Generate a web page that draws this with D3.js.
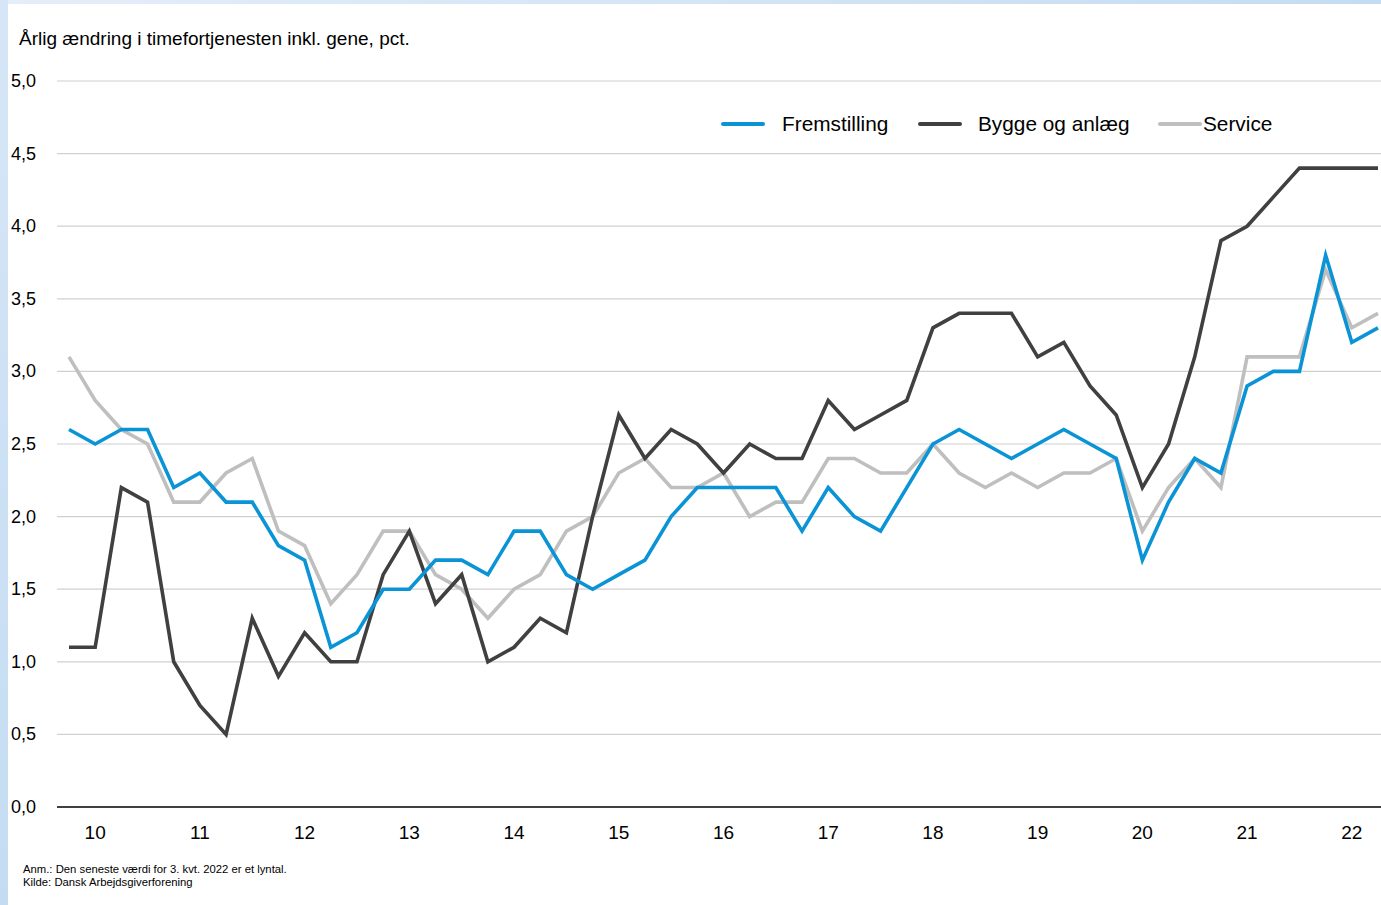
<!DOCTYPE html>
<html><head><meta charset="utf-8">
<script src="https://cdn.jsdelivr.net/npm/d3@7/dist/d3.min.js"></script>
<style>
html,body{margin:0;padding:0;background:#fff;}
svg{display:block;font-family:"Liberation Sans",Arial,sans-serif;}
</style></head>
<body>
<script>
const yearLabels = ["10","11","12","13","14","15","16","17","18","19","20","21","22"];
const quarters = d3.range(51); // 2010K1 .. 2022K3
const fremstilling = [2.6,2.5,2.6,2.6,2.2,2.3,2.1,2.1,1.8,1.7,1.1,1.2,1.5,1.5,1.7,1.7,1.6,1.9,1.9,1.6,1.5,1.6,1.7,2.0,2.2,2.2,2.2,2.2,1.9,2.2,2.0,1.9,2.2,2.5,2.6,2.5,2.4,2.5,2.6,2.5,2.4,1.7,2.1,2.4,2.3,2.9,3.0,3.0,3.8,3.2,3.3];
const bygge = [1.1,1.1,2.2,2.1,1.0,0.7,0.5,1.3,0.9,1.2,1.0,1.0,1.6,1.9,1.4,1.6,1.0,1.1,1.3,1.2,2.0,2.7,2.4,2.6,2.5,2.3,2.5,2.4,2.4,2.8,2.6,2.7,2.8,3.3,3.4,3.4,3.4,3.1,3.2,2.9,2.7,2.2,2.5,3.1,3.9,4.0,4.2,4.4,4.4,4.4,4.4];
const service = [3.1,2.8,2.6,2.5,2.1,2.1,2.3,2.4,1.9,1.8,1.4,1.6,1.9,1.9,1.6,1.5,1.3,1.5,1.6,1.9,2.0,2.3,2.4,2.2,2.2,2.3,2.0,2.1,2.1,2.4,2.4,2.3,2.3,2.5,2.3,2.2,2.3,2.2,2.3,2.3,2.4,1.9,2.2,2.4,2.2,3.1,3.1,3.1,3.7,3.3,3.4];
const yTicks = [0,0.5,1,1.5,2,2.5,3,3.5,4,4.5,5];
const seriesNames = ["Fremstilling","Bygge og anlæg","Service"];
const seriesColors = ["#0a94d6","#404040","#bfbfbf"];
const title = "Årlig ændring i timefortjenesten inkl. gene, pct.";
const notes = ["Anm.: Den seneste værdi for 3. kvt. 2022 er et lyntal.","Kilde: Dansk Arbejdsgiverforening"];

const W = 1381, H = 905;
const svg = d3.select("body").append("svg").attr("width", W).attr("height", H);

// frame background
const defs = svg.append("defs");
const g1 = defs.append("linearGradient").attr("id","lg").attr("x1","0").attr("x2","0").attr("y1","0").attr("y2","1");
g1.append("stop").attr("offset","0").attr("stop-color","#d6e6f6");
g1.append("stop").attr("offset","1").attr("stop-color","#c4dcf2");
const g2 = defs.append("linearGradient").attr("id","tg").attr("x1","0").attr("x2","1").attr("y1","0").attr("y2","0");
g2.append("stop").attr("offset","0").attr("stop-color","#e4eef8");
g2.append("stop").attr("offset","1").attr("stop-color","#c4dcf2");
svg.append("rect").attr("x",0).attr("y",0).attr("width",W).attr("height",4).attr("fill","url(#tg)");
svg.append("rect").attr("x",0).attr("y",0).attr("width",8).attr("height",H).attr("fill","url(#lg)");

const plotL = 57, plotR = 1381, plotT = 81, plotB = 807;
const x = d3.scaleLinear().domain([0, 50]).range([69, 1378]);
const y = d3.scaleLinear().domain([0, 5]).range([plotB, plotT]);

// gridlines
svg.append("g").selectAll("line").data(yTicks.filter(d => d > 0)).join("line")
  .attr("x1", plotL).attr("x2", plotR)
  .attr("y1", d => y(d)).attr("y2", d => y(d))
  .attr("stroke", "#d0d0d0").attr("stroke-width", 1.2);

// y labels
svg.append("g").selectAll("text").data(yTicks).join("text")
  .attr("x", 11).attr("y", d => y(d) + 6)
  .attr("font-size", 18).attr("fill", "#000")
  .text(d => d3.format(".1f")(d).replace(".", ","));

// x axis line
svg.append("line").attr("x1", plotL).attr("x2", plotR).attr("y1", plotB).attr("y2", plotB)
  .attr("stroke", "#000").attr("stroke-width", 1.5);

// x labels at Q2 of each year
svg.append("g").selectAll("text").data(yearLabels).join("text")
  .attr("x", (d, i) => x(i * 4 + 1)).attr("y", 839)
  .attr("text-anchor", "middle").attr("font-size", 19).attr("fill", "#000")
  .text(d => d);

// lines
const line = d3.line().x((d, i) => x(quarters[i])).y(d => y(d));
[service, bygge, fremstilling].forEach((s, k) => {
  const idx = [2, 1, 0][k];
  svg.append("path").datum(s).attr("d", line)
    .attr("fill", "none").attr("stroke", seriesColors[idx])
    .attr("stroke-width", 3.6).attr("stroke-linejoin", "miter").attr("stroke-miterlimit", 4);
});

// title
svg.append("text").attr("x", 19).attr("y", 45).attr("font-size", 19).attr("fill", "#000").text(title);

// legend
const legX = [723, 920, 1160], legT = [782, 978, 1203];
seriesNames.forEach((n, i) => {
  svg.append("line").attr("x1", legX[i]).attr("x2", legX[i] + 40).attr("y1", 124).attr("y2", 124)
    .attr("stroke", seriesColors[i]).attr("stroke-width", 4).attr("stroke-linecap", "round");
  svg.append("text").attr("x", legT[i]).attr("y", 131).attr("font-size", 20.8).attr("fill", "#000").text(n);
});

// notes
notes.forEach((t, i) => {
  svg.append("text").attr("x", 23).attr("y", 873 + i * 13).attr("font-size", 11.3).attr("fill", "#000").text(t);
});
</script>
</body></html>
